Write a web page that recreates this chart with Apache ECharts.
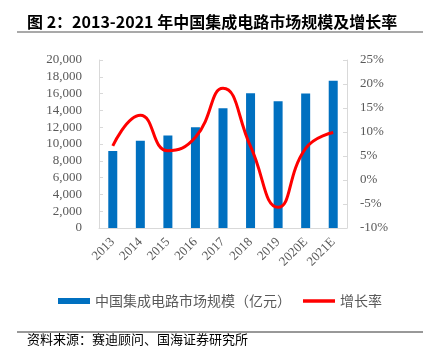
<!DOCTYPE html>
<html>
<head>
<meta charset="utf-8">
<script src="https://cdn.jsdelivr.net/npm/echarts@6/dist/echarts.min.js"></script>
<style>
  html, body { margin: 0; padding: 0; background: #fff; }
  #chart { width: 423px; height: 352px; }
</style>
</head>
<body>
<div id="chart"></div>
<script>
let years = ["2013", "2014", "2015", "2016", "2017", "2018", "2019", "2020E", "2021E"];
let marketSize = [9166, 10393, 11024, 11986, 14250, 16036, 15083, 16000, 17536];
let growthRate = [7.1, 13.5, 6.1, 8.9, 19.1, 7.0, -5.7, 6.6, 9.9];

let chart = echarts.init(document.getElementById("chart"));
let axisFont = "'Liberation Serif', 'Times New Roman', serif";
let cjkFont = "'Noto Sans CJK SC', sans-serif";

let option = {
  backgroundColor: "#fff",
  animation: false,
  title: {
    text: "图 2：2013-2021 年中国集成电路市场规模及增长率",
    left: 22,
    top: 9,
    textStyle: {
      fontFamily: cjkFont,
      fontSize: 16,
      fontWeight: "bold",
      color: "#000",
    },
  },
  graphic: [
    {
      type: "line",
      shape: { x1: 17, y1: 32, x2: 423, y2: 32 },
      style: { stroke: "#8c8c8c", lineWidth: 1.5 },
    },
    {
      type: "line",
      shape: { x1: 17, y1: 332, x2: 423, y2: 332 },
      style: { stroke: "#333", lineWidth: 1 },
    },
    {
      type: "text",
      left: 27,
      top: 333,
      style: {
        text: "资料来源：赛迪顾问、国海证券研究所",
        font: "13px " + cjkFont,
        fill: "#000",
      },
    },
  ],
  legend: {
    left: 53,
    top: 289,
    itemWidth: 32,
    itemHeight: 6,
    itemGap: 12,
    textStyle: {
      fontFamily: cjkFont,
      fontSize: 14,
      color: "#595959",
    },
    data: [
      { name: "中国集成电路市场规模（亿元）", icon: "rect" },
      // plain thick red bar, no circle marker
      { name: "增长率", icon: "path://M0,0 L32,0 L32,3.5 L0,3.5 Z" },
    ],
  },
  grid: {
    left: 99,
    right: 76,
    top: 60,
    bottom: 124,
  },
  xAxis: {
    type: "category",
    data: years,
    axisLine: { lineStyle: { color: "#d9d9d9" } },
    axisTick: { show: false },
    axisLabel: {
      rotate: 45,
      margin: 12,
      fontFamily: axisFont,
      fontSize: 13,
      color: "#595959",
    },
  },
  yAxis: [
    {
      type: "value",
      min: 0,
      max: 20000,
      interval: 2000,
      splitLine: { show: false },
      axisLine: { show: true, lineStyle: { color: "#d9d9d9" } },
      axisTick: { show: true, inside: true, length: 4, lineStyle: { color: "#d9d9d9" } },
      axisLabel: {
        margin: 17,
        fontFamily: axisFont,
        fontSize: 13,
        color: "#595959",
        formatter: (v) => v.toLocaleString("en-US"),
      },
    },
    {
      type: "value",
      min: -10,
      max: 25,
      interval: 5,
      splitLine: { show: false },
      axisLine: { show: true, lineStyle: { color: "#d9d9d9" } },
      axisTick: { show: true, inside: true, length: 4, lineStyle: { color: "#d9d9d9" } },
      axisLabel: {
        margin: 13,
        fontFamily: axisFont,
        fontSize: 13,
        color: "#595959",
        formatter: "{value}%",
      },
    },
  ],
  series: [
    {
      name: "中国集成电路市场规模（亿元）",
      type: "bar",
      barWidth: 9,
      itemStyle: { color: "#0070c0" },
      data: marketSize,
    },
    {
      name: "增长率",
      type: "line",
      yAxisIndex: 1,
      smooth: 0.5,
      symbol: "none",
      lineStyle: { color: "#ff0000", width: 3 },
      itemStyle: { color: "#ff0000" },
      data: growthRate,
    },
  ],
};

chart.setOption(option);
</script>
</body>
</html>
